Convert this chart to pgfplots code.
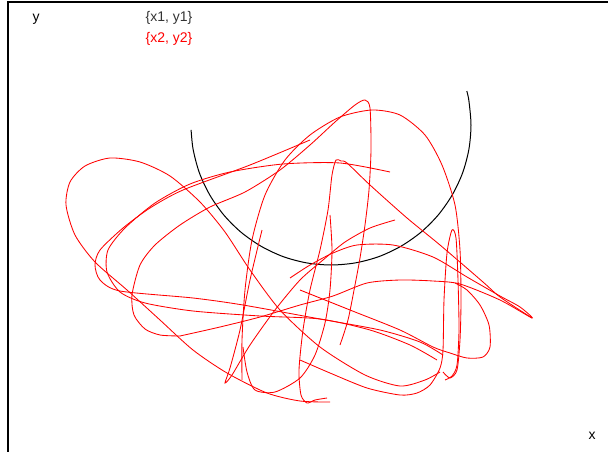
\documentclass[border=0pt]{standalone}
\usepackage{pgfplots}
\pgfplotsset{compat=1.18}
\usepackage{fontspec}
\setmainfont{Liberation Sans}

\begin{document}
\begin{tikzpicture}[x=1pt,y=1pt]
\useasboundingbox (0,0) rectangle (608,452);
\begin{axis}[at={(8pt,0pt)}, anchor=south west, scale only axis,
  width=600pt, height=450pt, xmin=8, xmax=608, ymin=2, ymax=452,
  y dir=reverse, hide axis, clip=false]

% frame: left and top only
\draw[black, line width=1.3pt] (axis cs:8,452) -- (axis cs:8,2) -- (axis cs:608,2);

% {x1, y1}: the arc
\addplot[black, line width=1pt, smooth, tension=0.5] coordinates {
 (191.1,129.9) (193.1,149.3) (199.4,172.9) (209.8,195) (223.8,215)
 (241,232.2) (261,246.2) (283.1,256.6) (306.7,262.9) (331,265)
 (355.3,262.9) (378.9,256.6) (401,246.2) (421,232.2) (438.2,215)
 (452.2,195) (462.6,172.9) (468.9,149.3) (471,125) (468.9,100.7)
 (466.8,91.1)};

% {x2, y2}: the tangle
\addplot[red, line width=0.85pt, smooth, tension=0.45] coordinates {
 (440,372) (425,380) (400,386) (365,375) (320,347) (280,310) (250,270)
 (225,232) (200,202) (170,176) (140,162) (110,158) (85,166) (70,182)
 (66,205) (75,235) (95,262) (127,290) (160,320) (193,350) (227,373)
 (267,393) (300,401) (330,402)};
\addplot[red, line width=0.85pt, smooth, tension=0.45] coordinates {
 (180,336) (160,335) (145,329) (134,315) (132,295) (140,265) (155,245)
 (180,225) (210,207) (245,192) (280,170) (310,145) (335,122) (355,105)
 (365,100) (370,108) (371,150) (369,190) (365,225) (360,258) (355,285)
 (348,320) (340,345)};
\addplot[red, line width=0.85pt, smooth, tension=0.45] coordinates {
 (180,336) (220,327) (260,317) (300,305) (333,296) (367,283) (400,280)
 (433,281) (460,284) (500,300) (532,318) (520,307) (500,296) (467,277)
 (433,257) (393,245) (357,245) (333,253) (310,265) (290,278)};
\addplot[red, line width=0.85pt, smooth, tension=0.45] coordinates {
 (310,140) (250,165) (183,190) (150,208) (123,228) (100,250) (95,265)
 (100,280) (120,291) (193,298) (243,305) (320,319) (380,330) (420,342)
 (443,355)};
\addplot[red, line width=0.85pt, smooth, tension=0.45] coordinates {
 (390,172) (340,163) (283,164) (230,172) (190,184) (155,203) (125,228)
 (108,250) (107,272) (120,292) (145,303) (193,311) (260,316) (320,319)
 (370,330) (410,345) (437,360)};
\addplot[red, line width=0.85pt, smooth, tension=0.45] coordinates {
 (242,380) (242,340) (245,290) (252,240) (265,195) (285,160) (310,135)
 (340,117) (372,110) (400,115) (425,135) (442,165) (455,205) (460,250)
 (461,300) (460,340) (457,370) (450,378) (443,372)};
\addplot[red, line width=0.85pt, smooth, tension=0.45] coordinates {
 (327,398) (315,400) (307,403) (301,395) (299,370) (303,330) (310,290)
 (320,250) (328,210) (332,175) (336,160) (341,161) (347,163) (370,185)
 (407,218) (440,245) (483,282) (500,297) (532,318)};
\addplot[red, line width=0.85pt, smooth, tension=0.45] coordinates {
 (300,360) (330,373) (367,388) (400,395) (417,393) (430,385) (440,368)
 (443,350) (444,300) (447,253) (452,230) (456,238) (458,280) (459,330)
 (457,365) (452,376) (445,380)};
\addplot[red, line width=0.85pt, smooth, tension=0.45] coordinates {
 (300,290) (350,310) (400,330) (433,347) (450,353) (467,358) (483,357)
 (490,347) (489,325) (480,305) (467,290) (455,283)};
\addplot[red, line width=0.85pt, smooth, tension=0.45] coordinates {
 (262,230) (250,280) (240,330) (230,368) (225,383) (232,375) (250,345)
 (275,310) (300,280) (323,260) (345,242) (370,228) (395,220)};
\addplot[red, line width=0.85pt, smooth, tension=0.45] coordinates {
 (243,347) (247,372) (255,390) (275,392) (300,378) (315,355) (325,323)
 (330,290) (332,250) (330,215)};

% labels
\node[black, font=\fontsize{14}{16}\selectfont] at (axis cs:36,19) {y};
\node[black, font=\fontsize{14}{16}\selectfont] at (axis cs:592,436) {x};
\node[black!80, font=\fontsize{14}{16}\selectfont] at (axis cs:169,18) {\{x1, y1\}};
\node[red, font=\fontsize{14}{16}\selectfont] at (axis cs:169,39) {\{x2, y2\}};
\end{axis}
\end{tikzpicture}
\end{document}
